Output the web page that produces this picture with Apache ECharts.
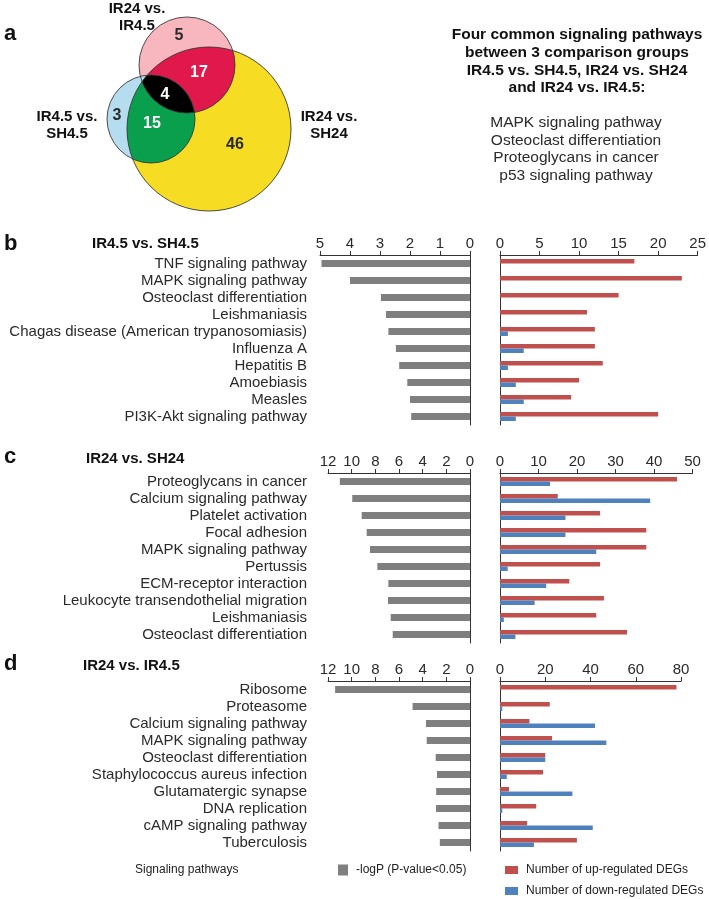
<!DOCTYPE html>
<html><head><meta charset="utf-8">
<script src="https://cdn.jsdelivr.net/npm/echarts/dist/echarts.min.js"></script>
<style>html,body{margin:0;padding:0;background:#fff}#c{width:709px;height:899px}</style>
</head><body><div id="c"></div>
<script>
// ---------------- DATA ----------------
const vennSetNames = ['IR24 vs.\nIR4.5', 'IR4.5 vs.\nSH4.5', 'IR24 vs.\nSH24'];
const vennRegionNames = ['IR24 vs. IR4.5 only', 'IR24 vs. IR4.5 & IR24 vs. SH24', 'all three', 'IR4.5 vs. SH4.5 only', 'IR4.5 vs. SH4.5 & IR24 vs. SH24', 'IR24 vs. SH24 only'];
const vennCounts = [5, 17, 4, 3, 15, 46];
const commonTitle = ['Four common signaling pathways', 'between 3 comparison groups', 'IR4.5 vs. SH4.5, IR24 vs. SH24', 'and IR24 vs. IR4.5:'];
const commonPathways = ['MAPK signaling pathway', 'Osteoclast differentiation', 'Proteoglycans in cancer', 'p53 signaling pathway'];

const bTitle = 'IR4.5 vs. SH4.5';
const bCats = ['TNF signaling pathway','MAPK signaling pathway','Osteoclast differentiation','Leishmaniasis','Chagas disease (American trypanosomiasis)','Influenza A','Hepatitis B','Amoebiasis','Measles','PI3K-Akt signaling pathway'];
const bLogP = [4.95, 4.0, 2.97, 2.8, 2.72, 2.47, 2.36, 2.09, 2.0, 1.96];
const bUp   = [17, 23, 15, 11, 12, 12, 13, 10, 9, 20];
const bDown = [0, 0, 0, 0, 1, 3, 1, 2, 3, 2];

const cTitle = 'IR24 vs. SH24';
const cCats = ['Proteoglycans in cancer','Calcium signaling pathway','Platelet activation','Focal adhesion','MAPK signaling pathway','Pertussis','ECM-receptor interaction','Leukocyte transendothelial migration','Leishmaniasis','Osteoclast differentiation'];
const cLogP = [11.0, 9.95, 9.15, 8.73, 8.45, 7.83, 6.9, 6.93, 6.7, 6.53];
const cUp   = [46, 15, 26, 38, 38, 26, 18, 27, 25, 33];
const cDown = [13, 39, 17, 17, 25, 2, 12, 9, 1, 4];

const dTitle = 'IR24 vs. IR4.5';
const dCats = ['Ribosome','Proteasome','Calcium signaling pathway','MAPK signaling pathway','Osteoclast differentiation','Staphylococcus aureus infection','Glutamatergic synapse','DNA replication','cAMP signaling pathway','Tuberculosis'];
const dLogP = [11.4, 4.85, 3.72, 3.66, 2.9, 2.79, 2.86, 2.87, 2.66, 2.55];
const dUp   = [78, 22, 13, 23, 20, 19, 4, 16, 12, 34];
const dDown = [0, 1, 42, 47, 20, 3, 32, 1, 41, 15];

const nameLogP = '-logP (P-value<0.05)';
const nameUp = 'Number of up-regulated DEGs';
const nameDown = 'Number of down-regulated DEGs';

// ---------------- LAYOUT / STYLE ----------------
const FF = 'Liberation Sans, Arial, Helvetica, sans-serif';
const TXT = '#2a2a2a';
const AX = '#333';
const GRAY = '#7f7f7f', RED = '#c0504d', BLUE = '#4f81bd';

const chart = echarts.init(document.getElementById('c'), null, {renderer: 'canvas'});

const panels = [
  {cats:bCats, logp:bLogP, up:bUp, down:bDown, top:255, leftL:320, maxL:5, intL:1, maxR:25, intR:5, widthR:199, labelMargin:13},
  {cats:cCats, logp:cLogP, up:cUp, down:cDown, top:473, leftL:328, maxL:12, intL:2, maxR:50, intR:10, widthR:192.5, labelMargin:21},
  {cats:dCats, logp:dLogP, up:dUp, down:dDown, top:681, leftL:328, maxL:12, intL:2, maxR:80, intR:20, widthR:181, labelMargin:21}
];
const grids = [], xAxes = [], yAxes = [], series = [];
function valAxis(gi, max, interval, inverse) {
  return {type:'value', gridIndex:gi, min:0, max:max, interval:interval, inverse:inverse, position:'top',
    axisLine:{show:true, onZero:false, lineStyle:{color:AX, width:1}},
    axisTick:{show:true, length:4, lineStyle:{color:AX}},
    axisLabel:{fontSize:15, margin:4, color:TXT, fontFamily:FF},
    splitLine:{show:false}};
}
panels.forEach((p, i) => {
  const gL = grids.length;
  grids.push({left:p.leftL, width:470 - p.leftL, top:p.top, height:170});
  grids.push({left:500, width:p.widthR, top:p.top, height:170});
  const xL = xAxes.length;
  xAxes.push(valAxis(gL, p.maxL, p.intL, true));
  xAxes.push(valAxis(gL + 1, p.maxR, p.intR, false));
  const yLab = yAxes.length;
  yAxes.push({type:'category', gridIndex:gL, data:p.cats, inverse:true, position:'left',
    axisLine:{show:false, onZero:false}, axisTick:{show:false},
    axisLabel:{interval:0, fontSize:15, margin:p.labelMargin, color:TXT, fontFamily:FF}});
  yAxes.push({type:'category', gridIndex:gL, data:p.cats, inverse:true, position:'right',
    axisLine:{show:true, onZero:false, lineStyle:{color:AX}}, axisTick:{show:false}, axisLabel:{show:false}});
  yAxes.push({type:'category', gridIndex:gL + 1, data:p.cats, inverse:true, position:'left',
    axisLine:{show:true, onZero:false, lineStyle:{color:AX}}, axisTick:{show:false}, axisLabel:{show:false}});
  series.push({type:'bar', name:nameLogP, xAxisIndex:xL, yAxisIndex:yLab, data:p.logp, barWidth:7,
    itemStyle:{color:GRAY}, silent:true});
  series.push({type:'bar', name:nameUp, xAxisIndex:xL + 1, yAxisIndex:yLab + 2, data:p.up, barWidth:4.5, barGap:'0%',
    itemStyle:{color:RED}, silent:true});
  series.push({type:'bar', name:nameDown, xAxisIndex:xL + 1, yAxisIndex:yLab + 2, data:p.down, barWidth:4.5, barGap:'0%',
    itemStyle:{color:BLUE}, silent:true});
});

// ---------------- VENN (graphic) ----------------
const cPink = {cx:187, cy:65, r:48};
const cBlue = {cx:151, cy:119, r:44};
const cYel  = {cx:209, cy:129, r:82};
function discIntersection(circles) {
  const pts = [];
  circles.forEach((c, i) => {
    for (let k = 0; k < 720; k++) {
      const a = k / 720 * 2 * Math.PI;
      const x = c.cx + c.r * Math.cos(a), y = c.cy + c.r * Math.sin(a);
      if (circles.every((o, j) => j === i || Math.hypot(x - o.cx, y - o.cy) <= o.r + 1e-6)) pts.push([x, y]);
    }
  });
  let mx = 0, my = 0;
  pts.forEach(p => { mx += p[0]; my += p[1]; });
  mx /= pts.length; my /= pts.length;
  pts.sort((p, q) => Math.atan2(p[1] - my, p[0] - mx) - Math.atan2(q[1] - my, q[0] - mx));
  return pts;
}
function txt(x, y, text, font, color, align, lh) {
  const st = {text:text, font:font, fill:color || TXT, textAlign:align || 'center', textVerticalAlign:'middle',
      align:align || 'center', verticalAlign:'middle'};
  if (lh) st.lineHeight = lh;
  return {type:'text', x:x, y:y, z:50, silent:true, style:st};
}
const graphics = [];
let z = 1;
graphics.push({type:'circle', z:z++, silent:true, shape:{cx:cYel.cx, cy:cYel.cy, r:cYel.r}, style:{fill:'#f6dc22'}});
graphics.push({type:'circle', z:z++, silent:true, shape:{cx:cPink.cx, cy:cPink.cy, r:cPink.r}, style:{fill:'#f8b6be'}});
graphics.push({type:'circle', z:z++, silent:true, shape:{cx:cBlue.cx, cy:cBlue.cy, r:cBlue.r}, style:{fill:'#b6dcef'}});
graphics.push({type:'polygon', z:z++, silent:true, shape:{points:discIntersection([cPink, cYel])}, style:{fill:'#e1184b'}});
graphics.push({type:'polygon', z:z++, silent:true, shape:{points:discIntersection([cBlue, cYel])}, style:{fill:'#0a9f4d'}});
graphics.push({type:'polygon', z:z++, silent:true, shape:{points:discIntersection([cPink, cBlue, cYel])}, style:{fill:'#000'}});
[cYel, cPink, cBlue].forEach(c => graphics.push({type:'circle', z:z++, silent:true, shape:{cx:c.cx, cy:c.cy, r:c.r},
  style:{fill:null, stroke:'#3a3a3a', lineWidth:0.9}}));
const vennLabelPos = [[179,36],[199,73],[165,95],[117,116],[152,124],[235,145]];
const vennLabelCol = [TXT, '#fff', '#fff', TXT, '#fff', TXT];
vennCounts.forEach((v, i) => graphics.push(txt(vennLabelPos[i][0], vennLabelPos[i][1], String(v), 'bold 16px ' + FF, vennLabelCol[i])));
const setLabelPos = [[137,17],[67,125],[329,125]];
vennSetNames.forEach((s, i) => graphics.push(txt(setLabelPos[i][0], setLabelPos[i][1], s, 'bold 15px ' + FF, '#111', 'center', 17)));
// panel letters and titles
graphics.push(txt(4, 34, 'a', 'bold 22px ' + FF, '#111', 'left'));
graphics.push(txt(4, 244, 'b', 'bold 22px ' + FF, '#111', 'left'));
graphics.push(txt(4, 457, 'c', 'bold 22px ' + FF, '#111', 'left'));
graphics.push(txt(4, 664, 'd', 'bold 22px ' + FF, '#111', 'left'));
graphics.push(txt(92, 244, bTitle, 'bold 15px ' + FF, '#111', 'left'));
graphics.push(txt(86, 459, cTitle, 'bold 15px ' + FF, '#111', 'left'));
graphics.push(txt(83, 666, dTitle, 'bold 15px ' + FF, '#111', 'left'));
// common pathways text
[35, 53, 71, 88].forEach((y, i) => graphics.push(txt(577, y, commonTitle[i], 'bold 15.5px ' + FF, '#111')));
[123, 141, 158, 176].forEach((y, i) => graphics.push(txt(576, y, commonPathways[i], '15.5px ' + FF, '#2a2a2a')));
graphics.push(txt(135, 870, 'Signaling pathways', '12px ' + FF, '#222', 'left'));

chart.setOption({
  animation:false,
  backgroundColor:'#fff',
  grid:grids, xAxis:xAxes, yAxis:yAxes, series:series,
  legend:[
    {data:[nameLogP], left:338, top:864, padding:0, itemWidth:10, itemHeight:11, icon:'rect', selectedMode:false,
      textStyle:{fontSize:12, fontFamily:FF, color:'#222', padding:[0,0,0,3]}},
    {data:[nameUp, nameDown], orient:'vertical', left:505, top:864, padding:0, itemWidth:13, itemHeight:8, itemGap:9, icon:'rect', selectedMode:false,
      textStyle:{fontSize:12, fontFamily:FF, color:'#222', padding:[0,0,0,3]}}
  ],
  graphic:graphics
});
</script></body></html>
